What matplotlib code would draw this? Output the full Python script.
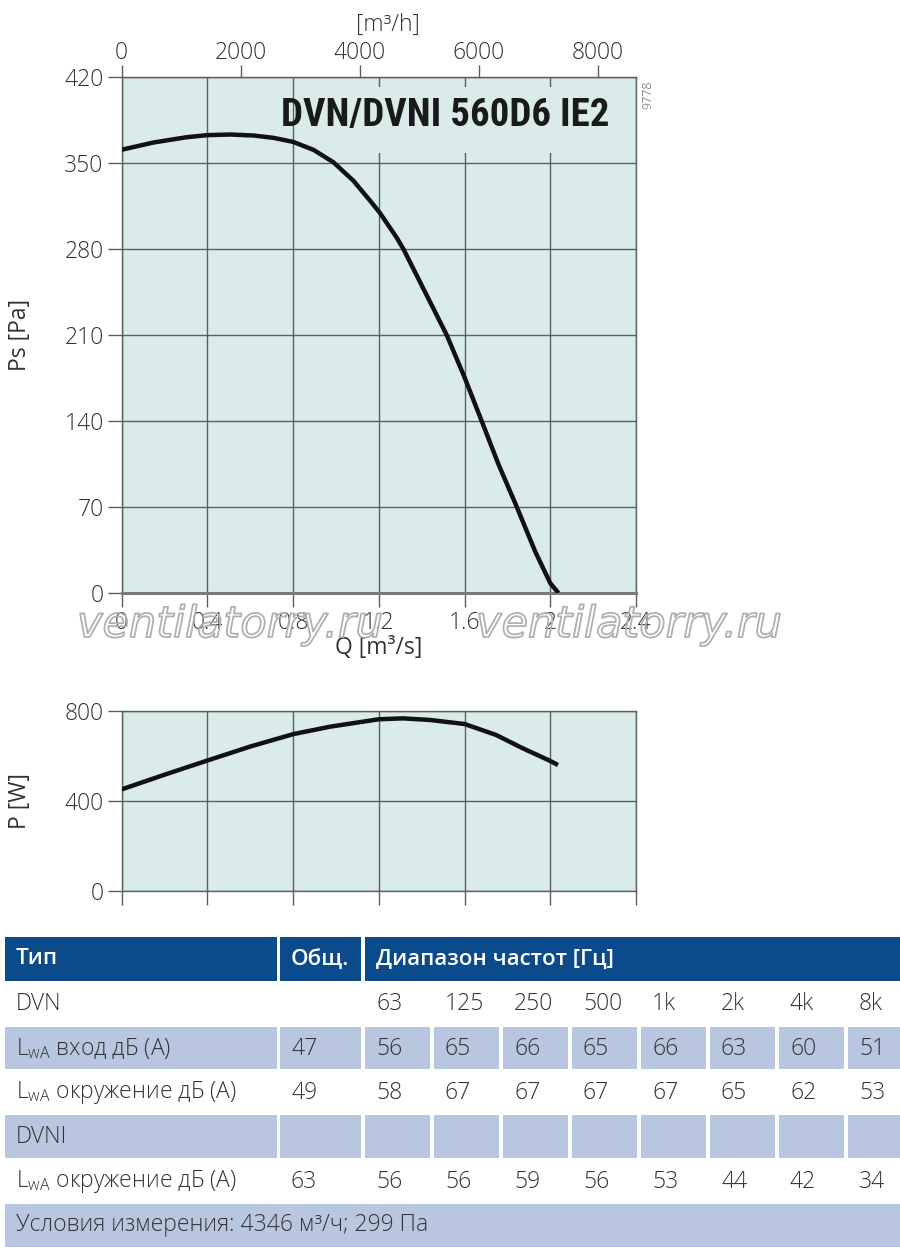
import matplotlib
matplotlib.use("Agg")
import matplotlib.pyplot as plt
import matplotlib.patheffects as pe
from matplotlib import font_manager
from matplotlib.font_manager import FontProperties
from matplotlib.patches import Rectangle

# body text: Open Sans light; model name: a condensed face if one exists
ttf = font_manager.fontManager.ttflist
names = {f.name for f in ttf}
narrow = {f.name for f in ttf if f.stretch in ('condensed', 'semi-condensed', 'extra-condensed')}
cond_family, cond_stretch = 'Liberation Sans', 'normal'
for cand in ['Liberation Sans Narrow', 'Roboto Condensed', 'Open Sans Condensed', 'Noto Sans Condensed']:
    if cand in names:
        cond_family = cand
        break
else:
    for cand in ['Roboto', 'Noto Sans', 'Open Sans']:
        if cand in narrow:
            cond_family, cond_stretch = cand, 'condensed'
            break

body = 'Open Sans' if 'Open Sans' in names else 'DejaVu Sans'
plt.rcParams['font.family'] = [body, 'DejaVu Sans']
plt.rcParams['font.weight'] = 'light'

# Ps curve [m3/s] -> [Pa]
q_ps = [0, 0.148, 0.303, 0.4, 0.506, 0.615, 0.708, 0.8, 0.895, 0.988, 1.081, 1.159, 1.203,
        1.283, 1.315, 1.416, 1.517, 1.6, 1.68, 1.758, 1.844, 1.929, 2.0, 2.038]
ps = [361, 366.9, 371.2, 372.9, 373.4, 372.6, 370.7, 367.4, 360.9, 350.8, 335.8, 319.5, 310,
      289.5, 280, 245, 210, 175.6, 140, 104.9, 70, 34, 8, 0]

# power curve [m3/s] -> [W]
q_p = [0, 0.2, 0.4, 0.6, 0.8, 0.972, 1.2, 1.312, 1.437, 1.6, 1.748, 1.872, 2.0, 2.036]
p_w = [451, 516, 579, 641, 696, 729, 762, 766, 759, 741, 692, 633, 577, 559]

q_ticks = [0, 0.4, 0.8, 1.2, 1.6, 2.0, 2.4]
ps_ticks = [0, 70, 140, 210, 280, 350, 420]
p_ticks = [0, 400, 800]
qh_ticks = [0, 2000, 4000, 6000, 8000]

model = 'DVN/DVNI 560D6 IE2'

# sound table
tbl_header = ['Тип', 'Общ.', 'Диапазон частот [Гц]']
freqs = ['63', '125', '250', '500', '1k', '2k', '4k', '8k']
row_names = ['DVN', r'L$_{\mathregular{wA}}$ вход дБ (A)', r'L$_{\mathregular{wA}}$ окружение дБ (A)',
             'DVNI', r'L$_{\mathregular{wA}}$ окружение дБ (A)']
row_total = ['', '47', '49', '', '63']
row_vals = [freqs,
            ['56', '65', '66', '65', '66', '63', '60', '51'],
            ['58', '67', '67', '67', '67', '65', '62', '53'],
            [''] * 8,
            ['56', '56', '59', '56', '53', '44', '42', '34']]
row_shaded = [False, True, False, True, False]
footer = 'Условия измерения: 4346 м³/ч; 299 Па'

BG = '#d9ecea'
GRID = '#5a5f62'
TXT = '#333333'
HEAD = '#0b4a8b'
SHADE = '#b9c6df'
W, H = 900, 1253
FS = 16.5

fig = plt.figure(figsize=(9, 12.53), dpi=100)


def fx(px):
    return px / W


def fy(py):
    return 1 - py / H


def style_axes(ax):
    ax.set_facecolor(BG)
    ax.set_axisbelow(True)
    ax.grid(True, color=GRID, linewidth=1.0)
    for s in ax.spines.values():
        s.set_color(GRID)
        s.set_linewidth(1.0)
    ax.tick_params(direction='out', length=10, width=1, color=GRID,
                   labelsize=FS, labelcolor=TXT, pad=3)


# ---- main chart
ax = fig.add_axes([fx(121.7), fy(593), fx(636) - fx(121.7), fy(77.3) - fy(593)])
style_axes(ax)
ax.spines['bottom'].set_linewidth(2.2)
ax.spines['bottom'].set_color('#7a7a7a')
ax.plot(q_ps, ps, color='#111111', linewidth=3.2, solid_capstyle='butt', zorder=3)
ax.set_xlim(0, 2.4)
ax.set_ylim(0, 420)
ax.set_xticks(q_ticks)
ax.set_xticklabels(['{:g}'.format(v) for v in q_ticks])
ax.set_yticks(ps_ticks)
ax.set_xlabel('Q [m³/s]', fontsize=FS, color=TXT, labelpad=1)
ax.set_ylabel('Ps [Pa]', fontsize=FS, color=TXT)
ax.yaxis.set_label_coords(-0.175, 0.5)

# box behind the model name hides grid lines
ax.add_patch(Rectangle((0.347, 0.853), 0.622, 0.128, transform=ax.transAxes,
                       facecolor=BG, edgecolor='none', zorder=1))
title_font = FontProperties(family=cond_family, stretch=cond_stretch, weight='semibold', size=28)
ax.text(0.949, 0.925, model, transform=ax.transAxes, ha='right', va='center',
        fontproperties=title_font, color='#1a1a1a', zorder=4)

secax = ax.secondary_xaxis('top', functions=(lambda q: q * 3600, lambda v: v / 3600))
secax.set_xticks(qh_ticks)
secax.tick_params(direction='out', length=9, width=1, color=GRID,
                  labelsize=FS, labelcolor=TXT, pad=0)
secax.spines['top'].set_color(GRID)
ax.text(0.518, 1.101, '[m³/h]', transform=ax.transAxes, ha='center', va='center',
        fontsize=FS, color=TXT)

fig.text(fx(648), fy(95), '9778', rotation=90, ha='center', va='center',
         fontsize=9, color='#555555')

# ---- power chart
ax2 = fig.add_axes([fx(121.7), fy(891), fx(636) - fx(121.7), fy(710.7) - fy(891)])
style_axes(ax2)
ax2.plot(q_p, p_w, color='#111111', linewidth=3.2, solid_capstyle='butt', zorder=3)
ax2.set_xlim(0, 2.4)
ax2.set_ylim(0, 800)
ax2.set_xticks(q_ticks)
ax2.set_xticklabels([])
ax2.set_yticks(p_ticks)
ax2.set_ylabel('P [W]', fontsize=FS, color=TXT)
ax2.yaxis.set_label_coords(-0.175, 0.5)

# ---- watermark (outline only)
for x0 in (77, 476):
    fig.text(fx(x0), fy(637), 'ventilatorry.ru', ha='left', va='baseline',
             fontsize=31, fontstyle='italic', family='DejaVu Sans', fontweight='normal',
             color=(1, 1, 1, 0),
             path_effects=[pe.Stroke(linewidth=1.3, foreground='#b0b0b0')])

# ---- table
tax = fig.add_axes([0, 0, 1, 1])
tax.set_xlim(0, W)
tax.set_ylim(H, 0)
tax.axis('off')

col0 = (5, 277)
col1 = (280, 361)
fcols = [(365 + i * 69, 365 + i * 69 + 65) for i in range(8)]
fcols[-1] = (fcols[-1][0], 900)
head_y = (937, 981)
row_y = [(981, 1026), (1026, 1069.5), (1069.5, 1114), (1114, 1158.5), (1158.5, 1203)]
foot_y = (1203, 1247)
pad = 11

# header
for (a, b), label in zip([col0, col1, (365, 900)], tbl_header):
    tax.add_patch(Rectangle((a, head_y[0]), b - a, head_y[1] - head_y[0],
                            facecolor=HEAD, edgecolor='none'))
    tax.text(a + pad, sum(head_y) / 2, label, ha='left', va='center',
             fontsize=16, color='white', fontweight='semibold')

for (y0, y1), name, tot, vals, shaded in zip(row_y, row_names, row_total, row_vals, row_shaded):
    cells = [col0, col1] + fcols
    texts = [name, tot] + vals
    for (a, b), t in zip(cells, texts):
        if shaded:
            tax.add_patch(Rectangle((a, y0 + 1), b - a, y1 - y0 - 2,
                                    facecolor=SHADE, edgecolor='none'))
        tax.text(a + pad, (y0 + y1) / 2 + 1, t, ha='left', va='center',
                 fontsize=FS, color=TXT)

tax.add_patch(Rectangle((5, foot_y[0] + 1), 895, foot_y[1] - foot_y[0] - 1,
                        facecolor=SHADE, edgecolor='none'))
tax.text(5 + pad, sum(foot_y) / 2, footer, ha='left', va='center', fontsize=FS, color=TXT)

fig.savefig('out.png', dpi=100)
